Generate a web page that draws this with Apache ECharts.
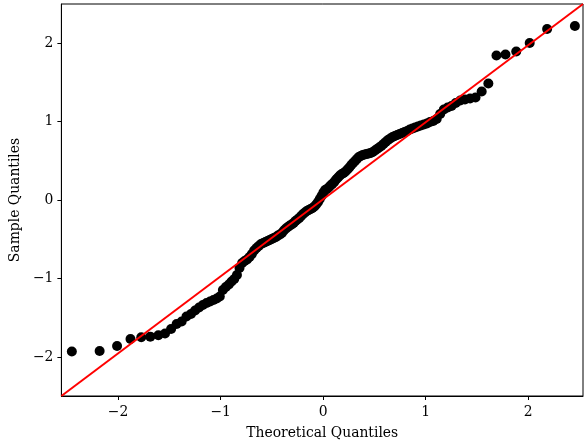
<!DOCTYPE html>
<html>
<head>
<meta charset="utf-8">
<script src="https://cdn.jsdelivr.net/npm/echarts@6/dist/echarts.min.js"></script>
<style>html,body{margin:0;padding:0;background:#fff}#chart{width:584px;height:447px}</style>
</head>
<body>
<div id="chart"></div>
<script>
// Theoretical quantiles (x) and sample quantiles (y)
var theoretical = [
-2.451,-2.180,-2.010,-1.879,-1.774,-1.686,-1.607,-1.542,-1.483,-1.429,
-1.380,-1.333,-1.289,-1.249,-1.210,-1.173,-1.137,-1.103,-1.070,-1.038,
-1.008,-0.978,-0.949,-0.920,-0.893,-0.867,-0.841,-0.816,-0.790,-0.766,
-0.742,-0.718,-0.695,-0.673,-0.650,-0.628,-0.606,-0.584,-0.563,-0.542,
-0.521,-0.501,-0.481,-0.460,-0.441,-0.421,-0.402,-0.383,-0.363,-0.344,
-0.325,-0.307,-0.288,-0.270,-0.251,-0.233,-0.215,-0.196,-0.178,-0.159,
-0.141,-0.122,-0.104,-0.085,-0.068,-0.050,-0.033,-0.016,0.002,0.019,
0.037,0.054,0.072,0.089,0.108,0.126,0.145,0.163,0.182,0.200,
0.218,0.237,0.255,0.274,0.292,0.311,0.329,0.348,0.367,0.386,
0.406,0.425,0.445,0.464,0.484,0.505,0.525,0.546,0.567,0.588,
0.610,0.632,0.654,0.677,0.699,0.722,0.746,0.770,0.794,0.819,
0.845,0.871,0.897,0.924,0.952,0.982,1.012,1.042,1.074,1.107,
1.141,1.177,1.214,1.252,1.293,1.337,1.383,1.433,1.486,1.546,
1.611,1.690,1.778,1.883,2.014,2.184,2.455
];
var sample = [
-1.930,-1.924,-1.860,-1.771,-1.749,-1.741,-1.724,-1.701,-1.643,-1.580,
-1.548,-1.484,-1.452,-1.408,-1.369,-1.338,-1.312,-1.293,-1.274,-1.255,
-1.229,-1.146,-1.108,-1.076,-1.038,-1.006,-0.955,-0.866,-0.803,-0.777,
-0.758,-0.726,-0.688,-0.643,-0.611,-0.586,-0.561,-0.548,-0.535,-0.522,
-0.510,-0.497,-0.484,-0.471,-0.452,-0.439,-0.420,-0.389,-0.363,-0.344,
-0.325,-0.312,-0.293,-0.268,-0.248,-0.229,-0.204,-0.178,-0.159,-0.140,
-0.127,-0.115,-0.102,-0.083,-0.057,-0.025,0.013,0.051,0.096,0.127,
0.140,0.159,0.185,0.204,0.229,0.261,0.287,0.312,0.331,0.344,
0.363,0.389,0.414,0.446,0.471,0.497,0.522,0.548,0.561,0.573,
0.580,0.586,0.592,0.599,0.611,0.631,0.650,0.669,0.688,0.713,
0.739,0.764,0.783,0.803,0.815,0.828,0.841,0.854,0.866,0.879,
0.898,0.911,0.924,0.936,0.949,0.962,0.975,0.994,1.006,1.032,
1.096,1.153,1.178,1.197,1.236,1.268,1.280,1.293,1.306,1.382,
1.484,1.841,1.854,1.892,2.000,2.178,2.217
];
// Reference line endpoints
var lineX = [-2.553, 2.534];
var lineY = [-2.497, 2.497];
var tickValues = [-2, -1, 0, 1, 2];

var points = theoretical.map(function (x, i) { return [x, sample[i]]; });
var linePts = lineX.map(function (x, i) { return [x, lineY[i]]; });

var font = 'DejaVu Serif';
function fmt(v) { return String(v).replace('-', '\u2212'); }

var chart = echarts.init(document.getElementById('chart'), null, {renderer: 'canvas'});
chart.setOption({
  animation: false,
  backgroundColor: '#fff',
  grid: {left: 59, right: 1, top: 4, bottom: 51, show: true, borderColor: '#000', borderWidth: 1, backgroundColor: 'transparent'},
  xAxis: {
    type: 'value', min: -2.553, max: 2.534,
    name: 'Theoretical Quantiles', nameLocation: 'middle', nameGap: 30,
    nameTextStyle: {fontFamily: font, fontSize: 13.9, color: '#000'},
    axisLine: {show: true, onZero: false, lineStyle: {color: '#000', width: 1}},
    axisTick: {show: true, length: 4, customValues: tickValues, lineStyle: {color: '#000'}},
    axisLabel: {customValues: tickValues, formatter: fmt, fontFamily: font, fontSize: 13.9, color: '#000', margin: 9},
    splitLine: {show: false}
  },
  yAxis: {
    type: 'value', min: -2.497, max: 2.497,
    name: 'Sample Quantiles', nameLocation: 'middle', nameGap: 38, nameRotate: 90,
    nameTextStyle: {fontFamily: font, fontSize: 13.9, color: '#000'},
    axisLine: {show: true, onZero: false, lineStyle: {color: '#000', width: 1}},
    axisTick: {show: true, length: 4, customValues: tickValues, lineStyle: {color: '#000'}},
    axisLabel: {customValues: tickValues, formatter: fmt, fontFamily: font, fontSize: 13.9, color: '#000', margin: 8},
    splitLine: {show: false}
  },
  series: [
    {
      type: 'scatter', data: points, symbol: 'circle', symbolSize: 10,
      itemStyle: {color: '#000', opacity: 1}, z: 2
    },
    {
      type: 'line', data: linePts, symbol: 'none',
      lineStyle: {color: '#ff0000', width: 2}, z: 3, clip: true
    }
  ]
});
</script>
</body>
</html>
